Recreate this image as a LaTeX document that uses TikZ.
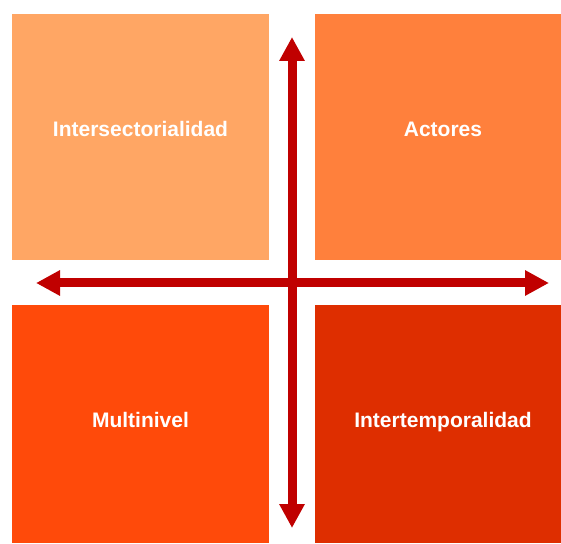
\documentclass[tikz,border=0pt]{standalone}
\usepackage{fontspec}
\setmainfont{Liberation Sans}
\usetikzlibrary{arrows.meta, positioning}

\definecolor{naranjaclaro}{RGB}{255,166,100}
\definecolor{naranja}{RGB}{255,128,60}
\definecolor{naranjafuerte}{RGB}{255,74,10}
\definecolor{rojizo}{RGB}{222,46,0}
\definecolor{flecha}{RGB}{192,0,0}

\begin{document}
\begin{tikzpicture}[x=1pt, y=1pt,
    cuadro/.style={inner sep=0pt, text=white, font=\fontsize{21}{24}\selectfont\bfseries,
        text height=9pt, text depth=9pt},
    abajo/.style={text height=12pt, text depth=6pt},
    derecha/.style={execute at begin node=\hspace*{10pt}},
    eje/.style={draw=flecha, line width=9pt,
        {Triangle[length=24pt,width=24pt]}-{Triangle[length=24pt,width=24pt]}}]
    \useasboundingbox (0,0) rectangle (561,543);

    % four quadrants
    \node[cuadro, fill=naranjaclaro, minimum width=257pt, minimum height=246pt] (inter) at (140.5,406) {Intersectorialidad};
    \node[cuadro, derecha, fill=naranja, minimum width=246pt, minimum height=246pt] (actores) at (438,406) {Actores};
    \node[cuadro, abajo, fill=naranjafuerte, minimum width=257pt, minimum height=238pt] (multi) at (140.5,119) {Multinivel};
    \node[cuadro, abajo, derecha, fill=rojizo, minimum width=246pt, minimum height=238pt] (tempo) at (438,119) {Intertemporalidad};

    % axes
    \coordinate (arriba) at (292,506);
    \coordinate (abajo) at (292,15);
    \coordinate (izq) at (36,260);
    \coordinate (der) at (549,260);
    \draw[eje] (izq) -- (der);
    \draw[eje] (abajo) -- (arriba);
\end{tikzpicture}
\end{document}
